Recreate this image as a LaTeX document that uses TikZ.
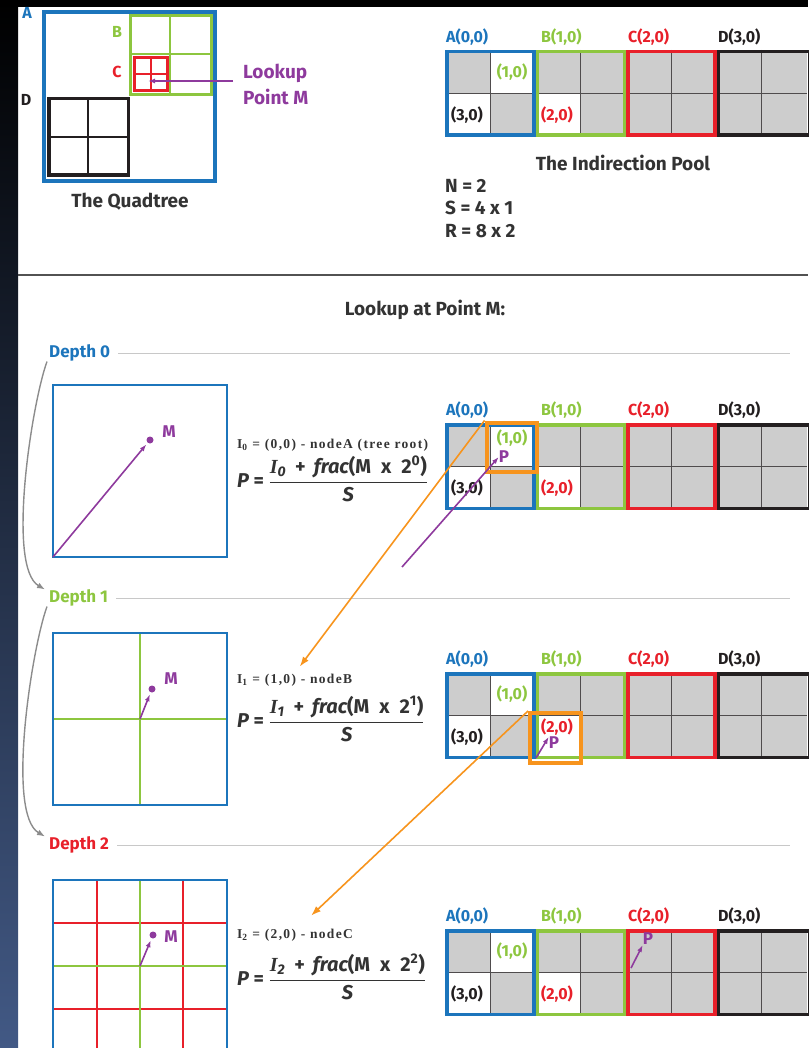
\documentclass[tikz,border=0pt]{standalone}
\usepackage{amsmath}
\usepackage{fontspec}
\setmainfont{Fira Sans}
\newfontfamily\serifbf{Liberation Serif}
\newfontfamily\notefont{Liberation Serif}[LetterSpace=10]
\usepackage{xcolor}
\usetikzlibrary{arrows.meta, positioning}
\definecolor{qblue}{HTML}{1C75BC}
\definecolor{qgreen}{HTML}{8DC63F}
\definecolor{qred}{HTML}{E8202A}
\definecolor{qblack}{HTML}{231F20}
\definecolor{qpurple}{HTML}{8E3A9D}
\definecolor{qorange}{HTML}{F7941D}
\definecolor{cellgray}{HTML}{CDCDCD}
\definecolor{ink}{HTML}{333333}
\definecolor{rulegray}{HTML}{C8C8C8}
\definecolor{flowgray}{HTML}{8C8C8C}
\definecolor{sidebl}{HTML}{425985}

\begin{document}
\begin{tikzpicture}[x=1pt, y=-1pt,
  lab/.style={font=\bfseries\fontsize{19}{26}\selectfont, text=ink, inner sep=0pt},
  tag/.style={font=\bfseries\fontsize{16}{18}\selectfont, inner sep=0pt, anchor=west},
  celltxt/.style={font=\bfseries\fontsize{16}{18}\selectfont, inner sep=0pt},
  note/.style={font=\notefont\bfseries\fontsize{13.5}{15}\selectfont, text=ink, inner sep=0pt, anchor=west},
  eqn/.style={font=\bfseries\fontsize{20}{24}\selectfont, text=ink, inner sep=0pt, anchor=west},
  depth/.style={font=\bfseries\fontsize{17}{20}\selectfont, inner sep=0pt, anchor=west},
  ptlbl/.style={font=\bfseries\fontsize{17}{19}\selectfont, text=qpurple, inner sep=0pt},
  rulel/.style={draw=rulegray, line width=1pt},
  gridl/.style={draw=qblack!80, line width=1pt},
  parr/.style={draw=qpurple, line width=1.6pt, -{Latex[length=7pt,width=5pt]}},
  oarr/.style={draw=qorange, line width=1.6pt, -{Latex[length=10pt,width=7pt]}},
  flow/.style={draw=flowgray, line width=1.4pt, -{Latex[length=8pt,width=6pt]}},
  frame/.style={draw=qblue, line width=2pt},
  hilite/.style={draw=qorange, line width=4pt, inner sep=0pt},
  dot/.style={circle, fill=qpurple, inner sep=0pt, minimum size=7pt}
]
\useasboundingbox (0,0) rectangle (808,1048);
% dark screen edges
\shade[top color=black, middle color=black!80!sidebl, bottom color=sidebl] (0,0) rectangle (18,1048);
\fill[black] (0,0) rectangle (808,7);

% the quadtree
\draw[qblue, line width=4pt] (44,12) rectangle (215,181);
\draw[qgreen, line width=2pt] (170,15) -- (170,95) (131,54) -- (211,54);
\draw[qgreen, line width=3pt] (130.5,15.5) rectangle (211.5,95);
\draw[qred, line width=1.5pt] (151,57) -- (151,91) (134,74) -- (168,74);
\draw[qred, line width=3pt] (134.5,57.5) rectangle (167.5,90.5);
\draw[qblack, line width=2pt] (88,98) -- (88,176) (48,137) -- (129,137);
\draw[qblack, line width=3.5pt] (48.75,98.75) rectangle (128.25,175.25);
\node[tag, anchor=center, text=qblue] (qa) at (27,13) {A};
\node[tag, anchor=center, text=qgreen] (qb) at (117,32) {B};
\node[tag, anchor=center, text=qred] (qc) at (117,72) {C};
\node[tag, anchor=center, text=qblack] (qd) at (26,100) {D};
\node[lab] (qtitle) at (130,202) {The Quadtree};
\node[lab, text=qpurple, align=left, anchor=west] (lookup) at (243,84) {Lookup\\Point M};
\coordinate (ptM) at (148,81);
\draw[parr, shorten <=10pt] (lookup.west |- ptM) -- (ptM);

% the indirection pool, once on top and once per depth
\foreach \r/\yt/\ua/\ub in {t/50/22/65, a/423/15/65, b/672/22/55, c/929/22/65} {
  \begin{scope}[shift={(0,\yt)}]
    \fill[cellgray] (445,0) rectangle (807,87);
    \fill[white] (490.25,0) rectangle (535.5,43.5) (445,43.5) rectangle (490.25,87)
                 (535.5,43.5) rectangle (580.75,87);
    \draw[gridl] (445,43.5) -- (807,43.5);
    \foreach \xd in {490.25,580.75,671.25,761.75} \draw[gridl] (\xd,0) -- (\xd,87);
    \draw[qblue, line width=3.5pt] (446.75,1.75) rectangle (533.75,85.25);
    \draw[qgreen, line width=3.5pt] (537.25,1.75) rectangle (624.25,85.25);
    \draw[qred, line width=3.5pt] (627.75,1.75) rectangle (714.75,85.25);
    \draw[qblack, line width=3.5pt] (718.25,1.75) rectangle (810,85.25);
    \node[tag, text=qblue] (hA\r) at (446,-13) {A(0,0)};
    \node[tag, text=qgreen] (hB\r) at (541,-13) {B(1,0)};
    \node[tag, text=qred] (hC\r) at (628,-13) {C(2,0)};
    \node[tag, text=qblack] (hD\r) at (718,-13) {D(3,0)};
    \node[celltxt, text=qgreen] (ca\r) at (512,\ua) {(1,0)};
    \node[celltxt, text=qblack] (cb\r) at (467,65) {(3,0)};
    \node[celltxt, text=qred] (cc\r) at (557,\ub) {(2,0)};
  \end{scope}
}
\node[lab] (pool) at (623,163) {The Indirection Pool};
\node[lab, anchor=west] (nval) at (445,186) {N = 2};
\node[lab, anchor=west] (sval) at (445,208) {S = 4 x 1};
\node[lab, anchor=west] (rval) at (445,231) {R = 8 x 2};

\draw[draw=ink!85, line width=2.5pt] (18,275) -- (808,275);
\node[lab] (lookat) at (425,310) {Lookup at Point M:};

% depth headings
\node[depth, text=qblue] (dep0) at (49,353) {Depth 0};
\node[depth, text=qgreen] (dep1) at (49,598) {Depth 1};
\node[depth, text=qred] (dep2) at (49,845) {Depth 2};
\foreach \d in {0,1,2} \draw[rulel] ([xshift=8pt]dep\d.east) -- (790,0 |- dep\d.east);
\draw[flow] ([xshift=-2pt]dep0.south west) to[out=250, in=150, looseness=0.5] ([xshift=-4pt]dep1.north west);
\draw[flow] ([xshift=-2pt]dep1.south west) to[out=250, in=150, looseness=0.5] ([xshift=-4pt]dep2.north west);

% depth 0
\draw[frame] (53,385) rectangle (227,557);
\coordinate (m0a) at (53,557);
\node[dot] (m0) at (150,440) {};
\node[ptlbl] (m0t) at (169,432) {M};
\draw[parr, shorten >=2pt] (m0a) -- (m0);
\node[note] (lbl0) at (237,445) {I\textsubscript{0} = (0,0) - nodeA (tree root)};
\node[eqn] (eq0) at (237,479) {\itshape P \upshape= $\genfrac{}{}{1.3pt}{0}{\text{{\serifbf\itshape I}\textsubscript{\itshape 0}\hspace{0.45em}+\hspace{0.4em}\itshape frac\upshape(M\hspace{0.5em}x\hspace{0.5em}2\textsuperscript{0})}}{\text{\itshape S}}$};

% depth 1
\draw[frame] (53,633) rectangle (227,805);
\draw[qgreen, line width=2pt] (140,634) -- (140,804) (54,719) -- (226,719);
\coordinate (m1a) at (140,719);
\node[dot] (m1) at (152,689) {};
\node[ptlbl] (m1t) at (171,679) {M};
\draw[parr, shorten >=2pt] (m1a) -- (m1);
\node[note] (lbl1) at (237,680) {I\textsubscript{1} = (1,0) - nodeB};
\node[eqn] (eq1) at (237,719) {\itshape P \upshape= $\genfrac{}{}{1.3pt}{0}{\text{{\serifbf\itshape I}\textsubscript{\itshape 1}\hspace{0.45em}+\hspace{0.4em}\itshape frac\upshape(M\hspace{0.5em}x\hspace{0.5em}2\textsuperscript{1})}}{\text{\itshape S}}$};

% depth 2
\draw[qred, line width=2pt] (97,881) -- (97,1048) (183,881) -- (183,1048)
  (54,923) -- (226,923) (54,1009) -- (226,1009);
\draw[qgreen, line width=2pt] (140,881) -- (140,1048) (54,966) -- (226,966);
\draw[frame] (53,880) rectangle (227,1052);
\coordinate (m2a) at (140,966);
\node[dot] (m2) at (153,935) {};
\node[ptlbl] (m2t) at (171,937) {M};
\draw[parr, shorten >=2pt] (m2a) -- (m2);
\node[note] (lbl2) at (237,935) {I\textsubscript{2} = (2,0) - nodeC};
\node[eqn] (eq2) at (237,977) {\itshape P \upshape= $\genfrac{}{}{1.3pt}{0}{\text{{\serifbf\itshape I}\textsubscript{\itshape 2}\hspace{0.45em}+\hspace{0.4em}\itshape frac\upshape(M\hspace{0.5em}x\hspace{0.5em}2\textsuperscript{2})}}{\text{\itshape S}}$};

% lookups in the pool
\node[hilite, minimum width=50, minimum height=49] (hiA) at (511.5,447) {};
\node[ptlbl] (p0) at (504,457) {P};
\coordinate (p0a) at (402,567);
\draw[parr] (p0a) -- (p0.west);
\draw[oarr] (hiA.north west) -- ([xshift=5pt,yshift=7pt]lbl1.north);

\node[hilite, minimum width=51, minimum height=50] (hiB) at (555.5,738) {};
\node[ptlbl] (p1) at (554,743) {P};
\coordinate (p1a) at (536,758);
\draw[parr] (p1a) -- (p1.north west);
\draw[oarr] (hiB.north west) -- ([xshift=16pt,yshift=13pt]lbl2.north);

\node[ptlbl] (p2) at (648,939) {P};
\coordinate (p2a) at (631,968);
\draw[parr] (p2a) -- (p2.south west);
\end{tikzpicture}
\end{document}
